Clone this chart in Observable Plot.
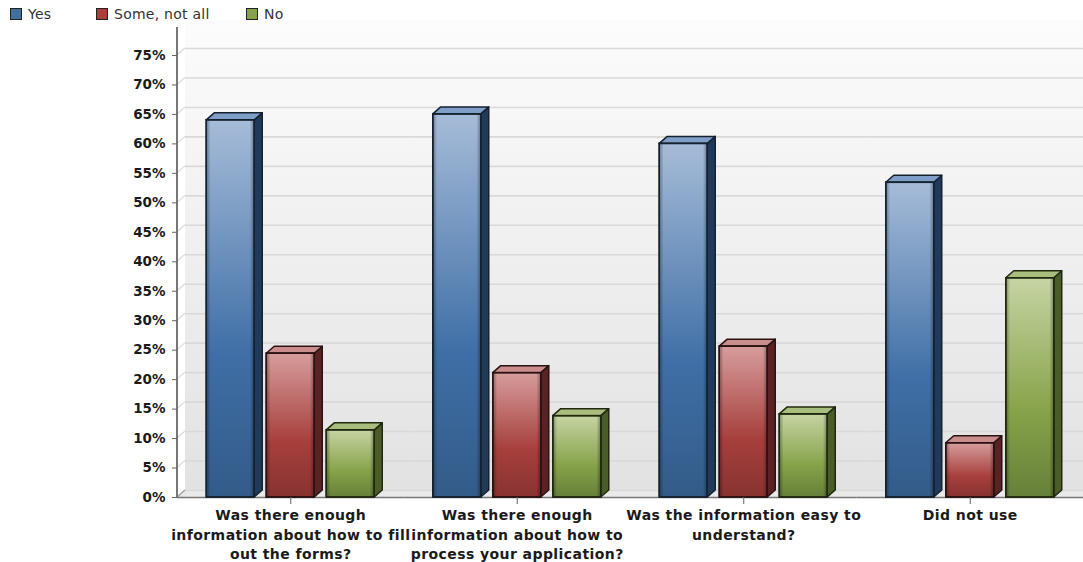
<!DOCTYPE html>
<html>
<head>
<meta charset="utf-8">
<script src="https://cdn.jsdelivr.net/npm/d3@7"></script>
<script src="https://cdn.jsdelivr.net/npm/@observablehq/plot@0.6"></script>
<style>
  html, body { margin: 0; padding: 0; background: #fff; overflow: hidden; }
  #legend { position: relative; height: 20px; font: 14px "DejaVu Sans", sans-serif; letter-spacing: 0.25px; color: #333; }
  #legend .item { position: absolute; top: 6px; display: flex; align-items: center; line-height: 16px; white-space: nowrap; }
  #legend .swatch { width: 10px; height: 10px; border: 1.5px solid #222; margin-right: 6px; }
  svg { display: block; }
  g[aria-label="fx-axis tick label"] { letter-spacing: 0.42px; }
</style>
</head>
<body>
<div id="legend"></div>
<div id="chart"></div>
<script>
// Survey answers, in percent
const categories = [
  "Was there enough\ninformation about how to fill\nout the forms?",
  "Was there enough\ninformation about how to\nprocess your application?",
  "Was the information easy to\nunderstand?",
  "Did not use"
];
const seriesNames = ["Yes", "Some, not all", "No"];
const yesValues = [64, 65, 60, 53.4];
const someValues = [24.4, 21.1, 25.6, 9.2];
const noValues = [11.4, 13.8, 14.1, 37.2];
const tickValues = d3.range(0, 80, 5);

const seriesValues = [yesValues, someValues, noValues];
const rows = seriesNames.flatMap((series, s) =>
  categories.map((category, c) => ({category, series, value: seriesValues[s][c]}))
);

// Face colours for each series
const palette = {
  "Yes": {id: "yes", swatch: "#41709f", stops: ["#a6bcd8", "#3f6fa6", "#335b88"], side: "#213a5a", top: "#7f9fc8", edge: "#14222f"},
  "Some, not all": {id: "some", swatch: "#a93f3c", stops: ["#d69d9c", "#a63f3c", "#873331"], side: "#5a2222", top: "#c98d8c", edge: "#2a1212"},
  "No": {id: "no", swatch: "#86a24a", stops: ["#c6d4a4", "#86a248", "#66803a"], side: "#4a5c28", top: "#a9bd7e", edge: "#20280f"}
};

const depthX = 8, depthY = 7;
const NS = "http://www.w3.org/2000/svg";

function svgEl(name, attrs, parent) {
  const el = document.createElementNS(NS, name);
  for (const k in attrs) el.setAttribute(k, attrs[k]);
  if (parent) parent.appendChild(el);
  return el;
}

// Gradients shared by the walls and the bars
function gradientDefs() {
  const defs = svgEl("defs", {});
  const wall = svgEl("linearGradient", {id: "wall", x1: 0, y1: 0, x2: 0, y2: 1}, defs);
  svgEl("stop", {offset: "0%", "stop-color": "#fcfcfc"}, wall);
  svgEl("stop", {offset: "100%", "stop-color": "#e2e2e2"}, wall);
  for (const name of seriesNames) {
    const p = palette[name];
    const g = svgEl("linearGradient", {id: "face-" + p.id, x1: 0, y1: 0, x2: 0, y2: 1}, defs);
    svgEl("stop", {offset: "0%", "stop-color": p.stops[0]}, g);
    svgEl("stop", {offset: "62%", "stop-color": p.stops[1]}, g);
    svgEl("stop", {offset: "100%", "stop-color": p.stops[2]}, g);
  }
  const bevel = svgEl("linearGradient", {id: "bevel", x1: 0, y1: 0, x2: 1, y2: 0}, defs);
  [["0%", 0.35], ["9%", 0], ["91%", 0], ["100%", 0.35]].forEach(([offset, a]) =>
    svgEl("stop", {offset, "stop-color": "#000", "stop-opacity": a}, bevel));
  return defs;
}

// Adds the side and top faces behind each bar, and a soft bevel over its front
function extrude(p) {
  return function (index, scales, values, dimensions, context, next) {
    const g = next(index, scales, values, dimensions, context);
    for (const rect of [...g.querySelectorAll("rect")]) {
      const x = +rect.getAttribute("x"), y = +rect.getAttribute("y");
      const w = +rect.getAttribute("width"), h = +rect.getAttribute("height");
      const style = {"stroke": p.edge, "stroke-width": 1.5, "stroke-linejoin": "round"};
      const side = svgEl("polygon", {
        ...style, fill: p.side,
        points: [[x + w, y], [x + w + depthX, y - depthY], [x + w + depthX, y + h - depthY], [x + w, y + h]].join(" ")
      });
      const top = svgEl("polygon", {
        ...style, fill: p.top,
        points: [[x, y], [x + depthX, y - depthY], [x + w + depthX, y - depthY], [x + w, y]].join(" ")
      });
      rect.before(side, top);
      rect.after(svgEl("rect", {x, y, width: w, height: h, fill: "url(#bevel)"}));
    }
    return g;
  };
}

// Back wall and floor, spanning every group; drawn once from the first facet
function roomShell(index, scales, values, dimensions) {
  const g = svgEl("g", {});
  const x0 = dimensions.marginLeft, yBase = scales.y(0);
  const right = x0 + 4 * (dimensions.width - dimensions.marginLeft - dimensions.marginRight);
  svgEl("rect", {
    x: x0 + depthX, y: dimensions.marginTop - depthY,
    width: right - x0 - depthX, height: yBase - dimensions.marginTop,
    fill: "url(#wall)"
  }, g);
  svgEl("polygon", {
    points: [[x0, yBase], [x0 + depthX, yBase - depthY], [right, yBase - depthY], [right, yBase]].join(" "),
    fill: "#e9e9e9"
  }, g);
  return g;
}

// Side wall edges and the value axis line
function leftWall(index, scales, values, dimensions) {
  const g = svgEl("g", {});
  const x0 = dimensions.marginLeft, yBase = scales.y(0);
  for (const v of tickValues) {
    svgEl("line", {x1: x0, x2: x0 + depthX, y1: scales.y(v), y2: scales.y(v) - depthY,
      stroke: v === 0 ? "#9a9a9a" : "#dcdcdc", "stroke-width": 1.2}, g);
  }
  svgEl("line", {x1: x0, x2: x0, y1: dimensions.marginTop, y2: yBase, stroke: "#777", "stroke-width": 2}, g);
  return g;
}

const firstGroup = () => categories[0];

const chart = Plot.plot({
  width: 1083,
  height: 542,
  marginLeft: 177,
  marginRight: 0,
  marginTop: 7,
  marginBottom: 65,
  style: {background: "#fff", overflow: "hidden"},
  fx: {domain: categories, padding: 0, round: false, label: null, axis: null},
  x: {domain: seriesNames, paddingInner: 0.2, paddingOuter: 0.4875, round: false, axis: null},
  y: {domain: [0, 79.75], label: null, axis: null},
  marks: [
    gradientDefs,
    Plot.ruleY([0], {fx: firstGroup, render: roomShell}),
    Plot.ruleY(tickValues, {dx: depthX, dy: -depthY, stroke: "#d9d9d9", strokeWidth: 1.6}),
    Plot.ruleY([0], {fx: firstGroup, render: leftWall}),
    Plot.ruleY([0], {stroke: "#777", strokeWidth: 1.6}),
    ...seriesNames.map((name) =>
      Plot.barY(rows.filter((d) => d.series === name), {
        fx: "category",
        x: "series",
        y: "value",
        fill: `url(#face-${palette[name].id})`,
        stroke: palette[name].edge,
        strokeWidth: 1.5,
        render: extrude(palette[name])
      })
    ),
    Plot.axisY(tickValues, {
      anchor: "left",
      tickSize: 5,
      tickPadding: 7,
      stroke: "#666",
      tickFormat: (d) => d + "%",
      fontFamily: "DejaVu Sans",
      fontWeight: "bold",
      fontSize: 13.5,
      fill: "#1a1a1a",
      label: null
    }),
    Plot.axisFx({
      anchor: "bottom",
      tickSize: 7,
      tickPadding: 2,
      stroke: "#666",
      lineHeight: 1.38,
      textOverflow: null,
      fontFamily: "DejaVu Sans",
      fontWeight: "bold",
      fontSize: 14,
      fill: "#1a1a1a",
      label: null
    })
  ]
});
document.getElementById("chart").appendChild(chart);

// Legend row above the chart
const legend = document.getElementById("legend");
const legendLefts = [10, 96, 246];
seriesNames.forEach((name, i) => {
  const item = document.createElement("div");
  item.className = "item";
  item.style.left = legendLefts[i] + "px";
  const swatch = document.createElement("span");
  swatch.className = "swatch";
  swatch.style.background = palette[name].swatch;
  item.append(swatch, name);
  legend.appendChild(item);
});
</script>
</body>
</html>
